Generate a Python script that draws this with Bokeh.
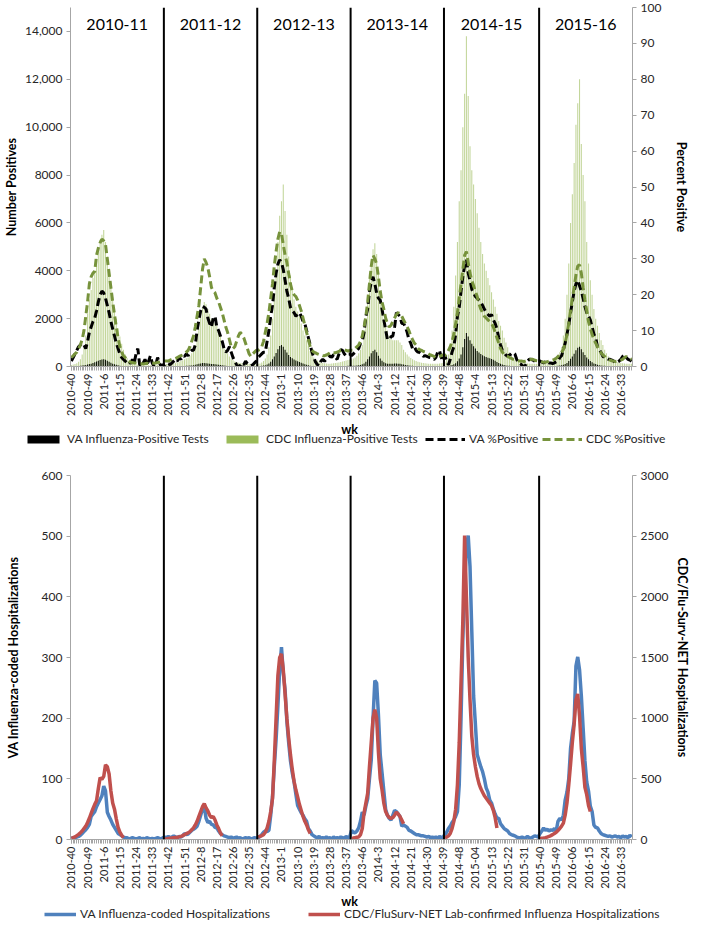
import math
from bokeh.plotting import figure
from bokeh.models import Range1d, LinearAxis, FixedTicker, Span, Label, Legend, LegendItem, ColumnDataSource
from bokeh.layouts import column
from bokeh.embed import file_html
from bokeh.resources import INLINE

# ---------------- data ----------------
season_names = ["2010-11", "2011-12", "2012-13", "2013-14", "2014-15", "2015-16"]
season_weeks = [52, 52, 52, 52, 53, 52]

top_tick_labels = ["2010-40", "2010-49", "2011-6", "2011-15", "2011-24", "2011-33", "2011-42",
                   "2011-51", "2012-8", "2012-17", "2012-26", "2012-35", "2012-44", "2013-1",
                   "2013-10", "2013-19", "2013-28", "2013-37", "2013-46", "2014-3", "2014-12",
                   "2014-21", "2014-30", "2014-39", "2014-48", "2015-4", "2015-13", "2015-22",
                   "2015-31", "2015-40", "2015-49", "2016-6", "2016-15", "2016-24", "2016-33"]
bottom_tick_labels = ["2010-40", "2010-49", "2011-6", "2011-15", "2011-24", "2011-33", "2011-42",
                      "2011-51", "2012-8", "2012-17", "2012-26", "2012-35", "2012-44", "2013-1",
                      "2013-10", "2013-19", "2013-28", "2013-37", "2013-46", "2014-3", "2014-12",
                      "2014-21", "2014-30", "2014-39", "2014-48", "2015-04", "2015-13", "2015-22",
                      "2015-31", "2015-40", "2015-49", "2016-06", "2016-15", "2016-24", "2016-33"]

# VA influenza-positive tests (weekly, 2010-40 .. 2016-39)
va_pos = [
    10, 12, 15, 20, 25, 30, 40, 50, 65, 80, 100, 120, 150,
    180, 210, 240, 270, 290, 300, 280, 240, 200, 160, 120, 90, 70,
    50, 35, 25, 20, 15, 12, 10, 10, 8, 8, 10, 12, 8,
    6, 6, 8, 7, 6, 8, 9, 7, 6, 8, 9, 7, 8,
    8, 9, 10, 10, 12, 13, 15, 16, 18, 20, 22, 25, 28,
    32, 38, 45, 55, 70, 90, 110, 130, 145, 150, 140, 125, 115,
    105, 100, 95, 85, 75, 60, 48, 38, 30, 24, 18, 14, 12,
    10, 9, 8, 8, 7, 8, 9, 10, 12, 14, 16, 18, 20,
    22, 26, 32, 42, 55, 80, 130, 200, 300, 420, 560, 720, 860,
    900, 830, 700, 580, 480, 400, 340, 290, 250, 220, 190, 160, 125,
    95, 70, 50, 35, 25, 20, 16, 14, 13, 12, 12, 13, 14,
    14, 15, 16, 17, 18, 19, 20, 22, 24, 25, 26, 27, 28,
    30, 32, 35, 40, 50, 65, 90, 130, 200, 300, 420, 550, 650,
    700, 600, 450, 330, 240, 180, 140, 120, 110, 110, 120, 130, 130,
    120, 110, 95, 80, 65, 52, 42, 34, 28, 24, 20, 18, 16,
    15, 14, 14, 13, 13, 12, 12, 13, 14, 15, 16, 17, 18,
    20, 25, 30, 40, 60, 90, 140, 220, 330, 500, 800, 1150, 1400,
    1250, 1100, 950, 850, 750, 650, 580, 520, 470, 430, 400, 370, 340,
    310, 280, 240, 190, 150, 110, 80, 60, 45, 35, 30, 25, 20,
    18, 16, 15, 14, 13, 13, 12, 12, 13, 13, 14, 14, 15, 15,
    15, 15, 16, 16, 17, 18, 19, 20, 22, 25, 30, 40, 55,
    75, 100, 150, 230, 320, 420, 530, 680, 780, 830, 720, 600, 480,
    380, 300, 230, 180, 130, 100, 75, 55, 45, 35, 30, 25, 22,
    20, 19, 18, 17, 16, 15, 15, 14, 14, 15, 15, 16, 16,
]

# CDC influenza-positive tests
cdc_pos = [
    60, 80, 100, 140, 200, 300, 500, 800, 1300, 2200, 2800, 3200, 3700,
    4000, 4500, 4900, 5300, 5500, 5700, 5200, 4600, 4000, 3400, 2900, 2400, 2000,
    1600, 1250, 950, 700, 500, 350, 250, 180, 130, 100, 80, 70, 60,
    55, 50, 50, 45, 50, 55, 50, 60, 65, 70, 75, 80, 90,
    90, 100, 110, 120, 130, 140, 160, 180, 200, 230, 260, 300, 340,
    380, 450, 550, 700, 900, 1200, 1600, 2100, 2500, 2700, 2600, 2400, 2200,
    2000, 1900, 1800, 1700, 1500, 1300, 1100, 900, 700, 550, 420, 330, 260,
    210, 180, 160, 150, 140, 130, 130, 120, 120, 110, 110, 110, 110,
    110, 130, 170, 230, 330, 500, 800, 1300, 2000, 2900, 4000, 5200, 6300,
    6900, 7600, 6500, 5500, 4600, 3800, 3200, 2800, 2500, 2300, 2100, 1800, 1500,
    1300, 1100, 850, 650, 500, 380, 300, 250, 200, 170, 150, 140, 130,
    120, 120, 130, 140, 150, 160, 170, 190, 210, 230, 250, 270, 290,
    300, 330, 380, 450, 550, 700, 900, 1300, 2000, 3000, 3900, 4500, 4900,
    5150, 4700, 4000, 3100, 2400, 2000, 1700, 1500, 1300, 1150, 1100, 1100, 1100,
    1100, 1000, 900, 700, 600, 500, 420, 350, 300, 260, 230, 200, 180,
    160, 150, 140, 130, 120, 120, 110, 110, 110, 120, 130, 140, 150,
    200, 300, 500, 900, 1500, 2500, 3800, 5200, 6900, 8200, 10000, 11400, 13800,
    11300, 9200, 8200, 7600, 7000, 6400, 5800, 5200, 4700, 4300, 4000, 3700, 3400,
    3100, 2800, 2500, 2200, 1900, 1700, 1500, 1200, 1000, 800, 600, 450, 350,
    280, 230, 200, 180, 160, 150, 140, 130, 130, 120, 120, 110, 110, 110,
    100, 100, 110, 120, 130, 150, 180, 220, 280, 350, 450, 600, 800,
    1300, 2000, 3000, 4300, 6000, 7200, 8500, 10100, 11000, 12000, 9300, 8000, 6900,
    5200, 4300, 3600, 3000, 2400, 2000, 1700, 1400, 1100, 900, 700, 550, 430,
    350, 300, 250, 210, 180, 160, 150, 140, 130, 120, 120, 110, 110,
]

# VA % positive
va_pct = [
    1.5, 2.5, 3.5, 4.5, 5.5, 6, 6.5, 6, 5, 7, 9.5, 11, 12.5,
    13.5, 15.5, 18, 20, 21, 20.5, 19, 17, 15, 12.5, 10.5, 8.5, 6.5,
    5, 3.5, 2.5, 2, 1.5, 1, 1.5, 0.8, 2, 1, 3.5, 5, 0.5,
    0, 1, 2, 0.5, 1.5, 3, 1, 0, 0.5, 2.5, 1, 0, 0.5,
    0.5, 1, 0.8, 0.5, 1, 1.5, 2, 1.5, 2.5, 2, 3, 2.8, 3.5,
    3, 4, 4.5, 4.5, 6, 10, 13, 15.5, 16.7, 16.5, 16, 13.5, 12,
    11, 13.5, 14, 11, 10, 8.5, 7, 5, 4, 4.5, 5.5, 4, 2.5,
    1.5, 0.5, 0, 0.3, 1, 0.5, 1.5, 0.8, 0.5, 0.2, 0.5, 1, 1.5,
    2.5, 3, 3.5, 4, 4, 7, 10, 14, 17, 22, 26, 28.5, 29.7,
    29, 27, 24, 21, 19, 16.5, 15.5, 15, 14, 14.5, 15, 14, 12.5,
    12, 10, 8, 6, 4, 2.5, 1.2, 0.5, 0.2, 1.5, 2, 1.5, 2,
    2.5, 3, 2.5, 3.3, 2.5, 2, 3.5, 4.7, 4.5, 3.5, 3, 3.5, 3.5,
    3, 3.5, 4, 4.5, 5, 6.5, 7, 9.5, 14, 16, 21, 23.5, 25,
    23, 20.5, 19, 18.5, 16, 13, 10.3, 7.5, 7.5, 8.3, 8.5, 11, 15,
    14.5, 14, 12, 12, 11, 9.5, 7.5, 6.5, 5, 5.5, 4.5, 4, 3.9,
    3.5, 2.8, 3, 2.8, 2.6, 2.5, 2.2, 2, 2.5, 4, 4.5, 2.5, 1.5,
    3, 1.5, 0.5, 2, 4, 5.5, 9, 14, 16.5, 21, 25, 28, 29.7,
    26, 24, 21.5, 20.5, 19.5, 19, 18.5, 18, 17, 16, 15, 14.5, 14,
    14.5, 13, 12, 10.5, 8, 6, 4.5, 3.9, 3.2, 2.8, 3.2, 3.5, 3.9,
    3.5, 2, 1, 0.8, 0.3, 0, 0.5, 1.5, 2, 2, 1.8, 1.5, 1.2, 1.5,
    1.5, 1.2, 1, 1.3, 1.5, 1, 1, 0.8, 1, 1.3, 1.5, 2.5, 3,
    4.7, 6.5, 9, 11.5, 15, 18, 21, 23, 24, 22.5, 21, 19, 16.7,
    15, 14, 13, 11, 9, 8, 5.5, 4.7, 3.9, 2.8, 2.5, 2.3, 2,
    2, 1.8, 1.5, 1, 1.2, 1.5, 2, 2.8, 3.3, 2.5, 2, 1.8, 1.5,
]

# CDC % positive
cdc_pct = [
    2.5, 3, 3.5, 4, 5, 6, 7.5, 10, 14, 18, 23, 25, 26,
    26.5, 31, 33, 34.5, 35.5, 35, 34, 30, 26, 22, 18, 14.5, 11,
    8, 5.5, 4, 3, 2.5, 2, 1.5, 1.2, 1.1, 1, 1, 0.9, 0.8,
    0.8, 0.7, 0.8, 0.9, 0.8, 0.9, 1, 0.9, 1, 1.1, 1.2, 1.3, 1.4,
    1.5, 1.5, 1.5, 1.8, 2, 2, 2.2, 2.5, 2.8, 3, 3.2, 3.5, 4,
    4.5, 5.5, 7, 8.5, 11, 14, 17, 22, 27, 30, 29, 27.5, 25,
    22, 21, 20.5, 19, 18, 16.5, 15, 13, 11, 9.5, 7.5, 5.5, 5,
    5.5, 7, 8.5, 9.5, 9, 8, 6.5, 5, 3.5, 2.8, 3.5, 4, 4.5,
    4.5, 4.8, 5.5, 7, 9.5, 12, 15, 19, 23, 28, 32, 35.5, 37.5,
    37, 34, 31, 29, 26, 23, 21, 20, 19.5, 18.5, 17, 15.5, 13.5,
    11.5, 9.5, 7.5, 5.5, 4.5, 4, 3.8, 3.5, 3.3, 3.2, 3, 3, 3.2,
    3.5, 3.8, 4, 3.8, 3.8, 4, 4.2, 4.5, 4.5, 4.7, 4.5, 4.3, 4.5,
    4.5, 4.5, 5, 5.5, 6, 7, 8.5, 11, 14, 18, 23, 28, 31,
    30, 28.5, 25, 21, 18, 16, 13.5, 12, 11, 11.5, 12.5, 13.5, 14.5,
    15, 14.5, 14, 13, 12, 11, 10, 8.5, 7.5, 6.5, 6, 5, 4.7,
    4.5, 4.2, 4, 3.8, 3.5, 3.2, 3, 2.8, 2.5, 2.5, 2.8, 3, 3.2,
    3, 3.5, 4.5, 5.5, 7, 9, 12, 15, 19, 23, 27, 31, 32,
    29, 26, 24, 22.5, 21, 19.5, 17.5, 16, 15, 14, 13.5, 13, 12.5,
    12, 11, 9.5, 8, 6.5, 5, 4, 3.3, 3, 2.8, 2.5, 2.3, 2,
    1.8, 1.7, 1.6, 1.5, 1.5, 1.4, 1.5, 1.7, 1.8, 2, 2, 1.8, 1.6, 1.5,
    1.5, 1.3, 1.2, 1.2, 1.3, 1.5, 1.7, 1.8, 2, 2.3, 2.8, 3.2, 4,
    4.7, 6.5, 9, 12, 15.5, 19, 22, 25.5, 28, 28.3, 26, 22, 18.5,
    15.5, 12.5, 10.5, 9, 7.5, 6.5, 5.5, 4.5, 3.8, 3.2, 2.8, 2.3, 2,
    1.8, 1.6, 1.5, 1.4, 1.5, 1.6, 1.8, 2, 2.5, 2.8, 2.5, 2.2, 2,
]

# VA influenza-coded hospitalizations
va_hosp = [
    2, 3, 3, 4, 5, 7, 10, 13, 16, 20, 25, 38, 42,
    46, 54, 60, 66, 72, 88, 80, 45, 38, 32, 25, 20, 15,
    10, 8, 6, 4, 3, 3, 1, 2, 3, 2, 1, 2, 3,
    1, 2, 1, 3, 2, 1, 2, 1, 2, 3, 2, 1, 3,
    4, 3, 5, 3, 4, 6, 4, 3, 5, 4, 6, 10, 8,
    9, 12, 15, 17, 19, 22, 30, 40, 50, 55, 35, 28, 30,
    25, 24, 20, 19, 14, 10, 8, 6, 5, 4, 3, 4, 2,
    3, 4, 2, 3, 1, 2, 3, 2, 3, 1, 2, 3, 2,
    3, 5, 8, 12, 14, 13, 15, 40, 70, 120, 165, 220, 280,
    317, 275, 247, 195, 160, 130, 110, 95, 75, 56, 50, 44, 40,
    34, 30, 18, 14, 8, 6, 4, 3, 5, 2, 3, 2, 4,
    2, 3, 1, 4, 2, 3, 2, 4, 3, 2, 5, 3, 4,
    15, 12, 11, 14, 19, 30, 45, 40, 55, 67, 100, 131, 200,
    262, 258, 205, 140, 110, 80, 50, 40, 35, 32, 40, 48, 46,
    42, 38, 22, 24, 22, 20, 15, 14, 12, 10, 8, 8, 7,
    6, 6, 5, 4, 5, 3, 4, 3, 4, 2, 5, 3, 4,
    8, 12, 18, 22, 28, 32, 38, 46, 90, 200, 330, 420, 482,
    501, 450, 343, 237, 190, 140, 130, 120, 112, 100, 85, 78, 65,
    60, 50, 42, 35, 35, 26, 22, 18, 16, 14, 10, 8, 7,
    6, 4, 3, 3, 4, 2, 3, 5, 3, 2, 4, 6, 5, 4,
    10, 14, 19, 15, 17, 14, 16, 15, 18, 14, 30, 35, 32,
    40, 65, 78, 100, 150, 175, 195, 286, 301, 280, 237, 184, 130,
    95, 80, 55, 46, 24, 20, 19, 14, 10, 8, 7, 6, 5,
    6, 4, 5, 6, 4, 5, 3, 6, 4, 5, 3, 7, 4,
]

# CDC/FluSurv-NET lab-confirmed hospitalizations (reported Oct-Apr of each season)
cdc_hosp_1011 = [10, 15, 22, 32, 42, 55, 70, 90, 110, 140, 175, 215, 255, 290, 320,
                 420, 510, 495, 520, 615, 600, 540, 400, 300, 250, 170, 100, 60, 35, 15]
cdc_hosp_1112 = [5, 5, 8, 10, 12, 14, 16, 18, 22, 26, 32, 40, 48, 55, 65, 80, 95,
                 120, 150, 190, 230, 270, 295, 260, 235, 200, 180, 190, 160, 120, 90, 55, 30]
cdc_hosp_1213 = [20, 25, 32, 40, 60, 95, 150, 230, 335, 650, 1000, 1350, 1500, 1530, 1400,
                 1200, 1000, 840, 700, 580, 480, 410, 350, 290, 240, 190, 150, 120, 80, 50]
cdc_hosp_1314 = [10, 12, 15, 18, 20, 40, 90, 220, 300, 380, 600, 800, 1000, 1070, 1000,
                 720, 500, 410, 300, 230, 200, 180, 175, 180, 200, 225, 210, 190, 160, 130]
cdc_hosp_1415 = [15, 20, 30, 50, 90, 150, 250, 450, 800, 1300, 1800, 2505, 2000, 1500, 1150,
                 850, 700, 600, 520, 460, 420, 390, 360, 340, 320, 300, 280, 240, 180, 95]
cdc_hosp_1516 = [8, 10, 12, 15, 20, 25, 32, 40, 50, 60, 75, 90, 110, 135, 200,
                 300, 450, 620, 800, 950, 1150, 1200, 1020, 750, 600, 430, 370, 280, 230]

# ---------------- build ----------------
N = sum(season_weeks)
weeks = list(range(N))
cdc_hosp = []
for vals, n in zip([cdc_hosp_1011, cdc_hosp_1112, cdc_hosp_1213, cdc_hosp_1314,
                    cdc_hosp_1415, cdc_hosp_1516], season_weeks):
    cdc_hosp += list(vals) + [float("nan")] * (n - len(vals))

starts = [sum(season_weeks[:k]) for k in range(len(season_weeks))]
bounds = [s - 0.5 for s in starts[1:]]
centers = [s + n / 2 - 0.5 for s, n in zip(starts, season_weeks)]
major = list(range(0, N, 9))

src = ColumnDataSource(dict(wk=weeks, va_pos=va_pos, cdc_pos=cdc_pos, va_pct=va_pct,
                            cdc_pct=cdc_pct, va_hosp=va_hosp, cdc_hosp=cdc_hosp))

FONT = "Lato"
AX = "#a6a6a6"
TXT = "#262626"
W = 693
XB = 53  # space under each frame for the rotated week labels

H1, HL1, HL2 = 419, 27, 29
H2 = 921 - H1 - HL1 - HL2


def style_axis(ax, label, standoff):
    ax.axis_label = label
    ax.axis_label_text_font = FONT
    ax.axis_label_text_font_style = "bold"
    ax.axis_label_text_font_size = "12.5px"
    ax.axis_label_text_color = "#000000"
    ax.axis_label_standoff = standoff
    ax.major_label_text_font = FONT
    ax.major_label_text_font_size = "12px"
    ax.major_label_text_color = TXT
    ax.axis_line_color = AX
    ax.major_tick_line_color = AX
    ax.minor_tick_line_color = None
    ax.major_tick_in = 0
    ax.major_tick_out = 4
    ax.major_label_standoff = 4


def style_x(p, labels):
    ax = p.xaxis[0]
    ax.ticker = FixedTicker(ticks=major, minor_ticks=weeks)
    ax.major_label_overrides = {t: l for t, l in zip(major, labels)}
    ax.major_label_orientation = math.pi / 2
    ax.major_label_text_font = FONT
    ax.major_label_text_font_size = "11px"
    ax.major_label_text_color = TXT
    ax.major_label_standoff = 3
    ax.axis_line_color = AX
    ax.major_tick_line_color = AX
    ax.minor_tick_line_color = AX
    ax.major_tick_in = 0
    ax.minor_tick_in = 0
    ax.major_tick_out = 4
    ax.minor_tick_out = 4


def base_fig(h, ymax, top_border):
    p = figure(width=W, height=h, x_range=Range1d(-0.5, N - 0.5), y_range=Range1d(0, ymax),
               output_backend="svg", toolbar_location=None, min_border_left=62,
               min_border_right=55, min_border_top=top_border, min_border_bottom=XB)
    p.xgrid.visible = False
    p.ygrid.visible = False
    p.outline_line_color = None
    p.background_fill_color = "white"
    p.border_fill_color = "white"
    return p


def legend_fig(h):
    p = figure(width=W, height=h, x_range=Range1d(0, 1), y_range=Range1d(0, 1),
               output_backend="svg", toolbar_location=None, x_axis_location=None,
               y_axis_location=None, min_border=0, min_border_left=0, min_border_right=0,
               min_border_top=0, min_border_bottom=0, frame_align=False)
    p.xgrid.visible = False
    p.ygrid.visible = False
    p.outline_line_color = None
    p.border_fill_color = "white"
    p.background_fill_color = "white"
    return p


def add_item(p, label, rend, x, y, gw):
    lg = Legend(items=[LegendItem(label=label, renderers=[rend])], location=(x, y),
                orientation="horizontal", border_line_color=None, background_fill_alpha=0,
                label_text_font=FONT, label_text_font_size="12px", label_text_color=TXT,
                glyph_width=gw, glyph_height=10, label_height=14, padding=0, margin=0,
                label_standoff=4, spacing=0)
    p.add_layout(lg)


def add_wk(p, y):
    p.add_layout(Label(x=349, y=y, x_units="screen", y_units="screen", text="wk",
                       text_align="center", text_baseline="middle", text_font=FONT,
                       text_font_size="12.5px", text_font_style="bold", text_color="#000000"))


# ---------- top panel ----------
p1 = base_fig(H1, 15000, 7)
p1.extra_y_ranges = {"pct": Range1d(0, 100)}

p1.vbar(x="wk", top="cdc_pos", width=0.6, source=src, fill_color="#c3d69b", line_color=None)
p1.vbar(x="wk", top="va_pos", width=0.6, source=src, fill_color="#0d1405", line_color=None)
p1.line(x="wk", y="va_pct", source=src, y_range_name="pct", line_color="#000000",
        line_width=3, line_dash="8 4")
p1.line(x="wk", y="cdc_pct", source=src, y_range_name="pct", line_color="#77933c",
        line_width=3, line_dash="8 4")

style_x(p1, top_tick_labels)
yl = p1.yaxis[0]
yl.ticker = FixedTicker(ticks=list(range(0, 14001, 2000)))
yl.major_label_overrides = {v: (f"{v:,}" if v >= 10000 else str(v)) for v in range(0, 14001, 2000)}
style_axis(yl, "Number Positives", 3)

yr = LinearAxis(y_range_name="pct", ticker=FixedTicker(ticks=list(range(0, 101, 10))))
style_axis(yr, "Percent Positive", 10)
p1.add_layout(yr, "right")

for b in bounds:
    p1.add_layout(Span(location=b, dimension="height", line_color="black", line_width=2))
for c, name in zip(centers, season_names):
    p1.add_layout(Label(x=c, y=14300, text=name, text_align="center", text_baseline="middle",
                        text_font=FONT, text_font_size="16px", text_font_style="normal",
                        text_color="#000000"))

# top legend strip ("wk" + legend)
lg1 = legend_fig(HL1)
d_va = lg1.vbar(x=[5], top=[5], width=0.5, fill_color="#000000", line_color=None)
d_cdc = lg1.vbar(x=[5], top=[5], width=0.5, fill_color="#9bbb59", line_color=None)
d_vap = lg1.line(x=[5, 6], y=[5, 5], line_color="#000000", line_width=3, line_dash="8 4")
d_cdcp = lg1.line(x=[5, 6], y=[5, 5], line_color="#77933c", line_width=3, line_dash="8 4")
add_item(lg1, "VA Influenza-Positive Tests", d_va, 23, 0, 40)
add_item(lg1, "CDC Influenza-Positive Tests", d_cdc, 222, 0, 40)
add_item(lg1, "VA %Positive", d_vap, 425, 0, 40)
add_item(lg1, "CDC %Positive", d_cdcp, 542, 0, 40)
add_wk(lg1, 17)

# ---------- bottom panel ----------
p2 = base_fig(H2, 600, 29)
p2.extra_y_ranges = {"cdc": Range1d(0, 3000)}
p2.line(x="wk", y="va_hosp", source=src, line_color="#4f81bd", line_width=3.5)
p2.line(x="wk", y="cdc_hosp", source=src, y_range_name="cdc", line_color="#c0504d",
        line_width=3.5)

style_x(p2, bottom_tick_labels)
yl2 = p2.yaxis[0]
yl2.ticker = FixedTicker(ticks=list(range(0, 601, 100)))
style_axis(yl2, "VA Influenza-coded Hospitalizations", 18)
yr2 = LinearAxis(y_range_name="cdc", ticker=FixedTicker(ticks=list(range(0, 3001, 500))))
style_axis(yr2, "CDC/Flu-Surv-NET Hospitalizations", 4)
p2.add_layout(yr2, "right")

for b in bounds:
    p2.add_layout(Span(location=b, dimension="height", line_color="black", line_width=2))

lg2 = legend_fig(HL2)
d_vah = lg2.line(x=[5, 6], y=[5, 5], line_color="#4f81bd", line_width=3.5)
d_cdch = lg2.line(x=[5, 6], y=[5, 5], line_color="#c0504d", line_width=3.5)
add_item(lg2, "VA Influenza-coded Hospitalizations", d_vah, 44, 0, 32)
add_item(lg2, "CDC/FluSurv-NET Lab-confirmed Influenza Hospitalizations", d_cdch, 308, 0, 32)
add_wk(lg2, 20)

layout = column(p1, lg1, p2, lg2, spacing=0)
with open("out.html", "w") as f:
    f.write(file_html(layout, INLINE))
